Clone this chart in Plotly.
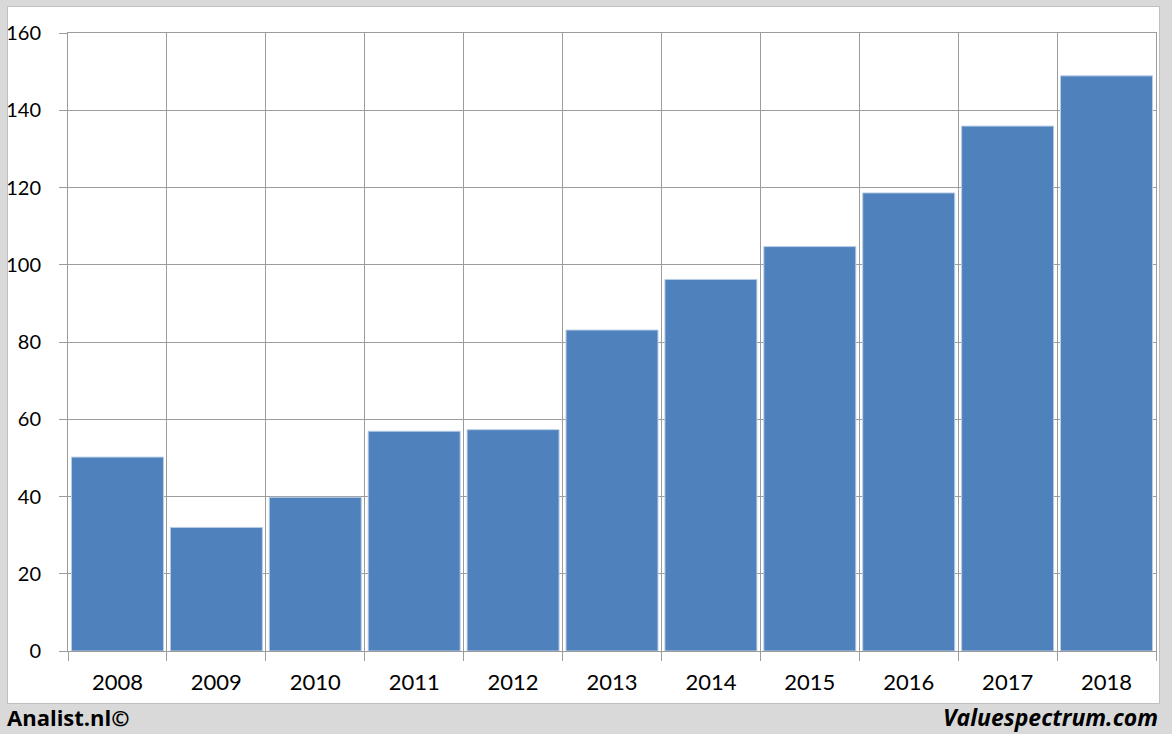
import plotly.graph_objects as go

years = ["2008", "2009", "2010", "2011", "2012", "2013", "2014", "2015", "2016", "2017", "2018"]
values = [50.2, 32.0, 39.8, 56.9, 57.3, 83.1, 96.2, 104.7, 118.6, 135.9, 148.9]
y_ticks = [0, 20, 40, 60, 80, 100, 120, 140, 160]

W, H = 1172, 734
ml, mr, mt, mb = 68, 16, 33, 83
pw, ph = W - ml - mr, H - mt - mb

def px_x(x):
    return (x - ml) / pw

def px_y(y):
    return (H - mb - y) / ph

fig = go.Figure(go.Bar(
    x=years, y=values,
    marker=dict(color="#4f81bd", line=dict(color="#b9cde5", width=1)),
))

grid = "#9c9c9c"
font = "Lato, 'Open Sans', sans-serif"

fig.update_layout(
    width=W, height=H,
    margin=dict(l=ml, r=mr, t=mt, b=mb, autoexpand=False),
    paper_bgcolor="#d9d9d9",
    plot_bgcolor="white",
    bargap=0.07,
    showlegend=False,
    font=dict(family=font, size=20, color="black"),
    xaxis=dict(
        type="category", range=[-0.5, 10.5],
        tickson="boundaries", showgrid=True, gridcolor=grid, gridwidth=1,
        ticks="outside", ticklen=9, tickcolor=grid,
        showline=True, linecolor=grid, mirror=True,
        ticklabelstandoff=12, automargin=False,
        tickfont=dict(size=22, family=font),
    ),
    yaxis=dict(
        range=[0, 160], tickvals=y_ticks, showgrid=True, gridcolor=grid, gridwidth=1,
        ticks="outside", ticklen=8, tickcolor=grid,
        showline=True, linecolor=grid, mirror=True,
        zeroline=False,
        ticklabelstandoff=14, automargin=False,
        tickfont=dict(size=20, family=font),
    ),
    shapes=[
        dict(type="rect", xref="paper", yref="paper", layer="below",
             x0=px_x(7.5), x1=px_x(1159.5), y0=px_y(703.5), y1=px_y(6.5),
             fillcolor="white", line=dict(color="#bfbfbf", width=1)),
    ],
    annotations=[
        dict(text="<b>Analist.nl©</b>", xref="paper", yref="paper",
             x=px_x(5), y=px_y(717), xanchor="left", yanchor="middle",
             showarrow=False, font=dict(size=22, family="'Open Sans', sans-serif", color="black")),
        dict(text="<b><i>Valuespectrum.com</i></b>", xref="paper", yref="paper",
             x=px_x(1160), y=px_y(717), xanchor="right", yanchor="middle",
             showarrow=False, font=dict(size=23, family="'Open Sans', sans-serif", color="black")),
    ],
)

fig.write_html("out.html", config={"displayModeBar": False},
               post_script="document.body.style.margin='0';")
